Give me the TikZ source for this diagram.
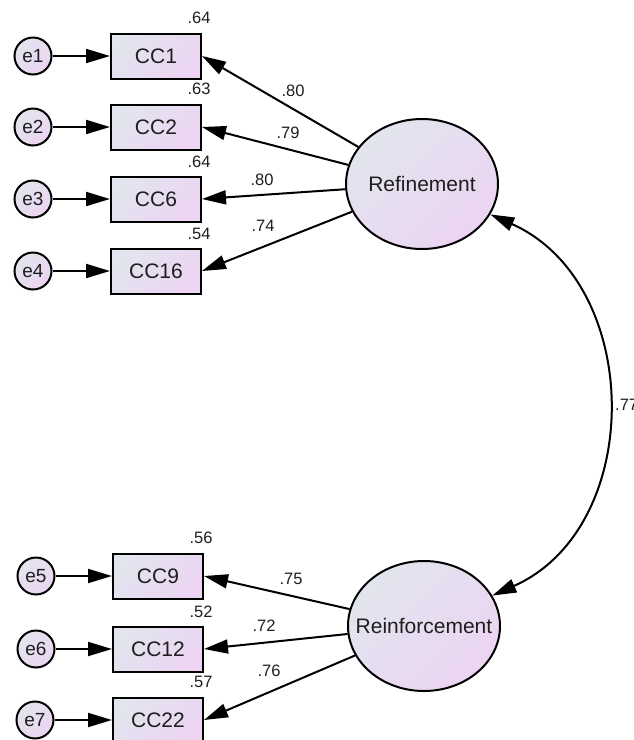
\documentclass[tikz,border=0pt]{standalone}
\usepackage{fontspec}
\setmainfont{Liberation Sans}
\usetikzlibrary{arrows.meta,shapes.geometric}
\definecolor{shadeA}{RGB}{226,229,238}
\definecolor{shadeB}{RGB}{236,212,242}
\definecolor{ink}{RGB}{30,30,30}
\begin{document}
\begin{tikzpicture}[x=1pt,y=1pt,
  fillgrad/.style={top color=shadeA,bottom color=shadeB,shading angle=45},
  obs/.style={draw,line width=2pt,fillgrad,minimum width=90pt,minimum height=45pt,
    inner sep=0pt,text=ink,font=\fontsize{21}{24}\selectfont},
  lat/.style={draw,ellipse,line width=2pt,fillgrad,minimum width=152pt,minimum height=130pt,
    inner ysep=0pt,inner xsep=-16pt,text=ink,font=\fontsize{21}{24}\selectfont},
  err/.style={draw,circle,line width=2pt,fillgrad,minimum size=37pt,inner sep=0pt,
    text=ink,font=\fontsize{19}{22}\selectfont},
  link/.style={line width=2pt,-{Triangle[length=24pt,width=14pt]}},
  both/.style={line width=2pt,{Triangle[length=24pt,width=14pt]}-{Triangle[length=24pt,width=14pt]}},
  num/.style={inner sep=0pt,text=ink,font=\fontsize{16.5}{19}\selectfont}
]
\useasboundingbox (0,0) rectangle (633,-740);
\clip (0,0) rectangle (633,-740);

% latent factors
\node[lat] (ref) at (422,-184) {Refinement};
\node[lat] (rei) at (424,-626) {Reinforcement};

% observed items, first factor
\node[obs] (cc1)  at (156,-56)  {CC1};
\node[obs] (cc2)  at (156,-127) {CC2};
\node[obs] (cc6)  at (156,-199) {CC6};
\node[obs] (cc16) at (156,-271) {CC16};

% observed items, second factor
\node[obs] (cc9)  at (158,-576) {CC9};
\node[obs] (cc12) at (158,-649) {CC12};
\node[obs] (cc22) at (158,-720) {CC22};

% error terms
\node[err] (e1) at (33,-56)  {e1};
\node[err] (e2) at (33,-127) {e2};
\node[err] (e3) at (33,-199) {e3};
\node[err] (e4) at (33,-271) {e4};
\node[err] (e5) at (36,-576) {e5};
\node[err] (e6) at (36,-649) {e6};
\node[err] (e7) at (35,-720) {e7};

% error paths
\draw[link] (e1) -- (cc1);
\draw[link] (e2) -- (cc2);
\draw[link] (e3) -- (cc6);
\draw[link] (e4) -- (cc16);
\draw[link] (e5) -- (cc9);
\draw[link] (e6) -- (cc12);
\draw[link] (e7) -- (cc22);

% factor loadings
\draw[link] (ref) -- (cc1.east);
\draw[link] (ref) -- (cc2.east);
\draw[link] (ref) -- (cc6.east);
\draw[link] (ref) -- (cc16.east);
\draw[link] (rei) -- (cc9.east);
\draw[link] (rei) -- (cc12.east);
\draw[link] (rei) -- (cc22.east);

% factor covariance
\draw[both] (ref) to[out=-24,in=24,distance=168pt] (rei);

% squared multiple correlations
\node[num] (r1) at (199,-18)  {.64};
\node[num] (r2) at (199,-89)  {.63};
\node[num] (r3) at (199,-162) {.64};
\node[num] (r4) at (199,-234) {.54};
\node[num] (r5) at (201,-538) {.56};
\node[num] (r6) at (201,-612) {.52};
\node[num] (r7) at (201,-682) {.57};

% loading estimates
\node[num] (l1) at (293,-91)  {.80};
\node[num] (l2) at (288,-133) {.79};
\node[num] (l3) at (262,-180) {.80};
\node[num] (l4) at (263,-226) {.74};
\node[num] (l5) at (291,-579) {.75};
\node[num] (l6) at (264,-626) {.72};
\node[num] (l7) at (269,-671) {.76};

% correlation estimate
\node[num,anchor=west] (c1) at (615,-405) {.77};
\end{tikzpicture}
\end{document}
